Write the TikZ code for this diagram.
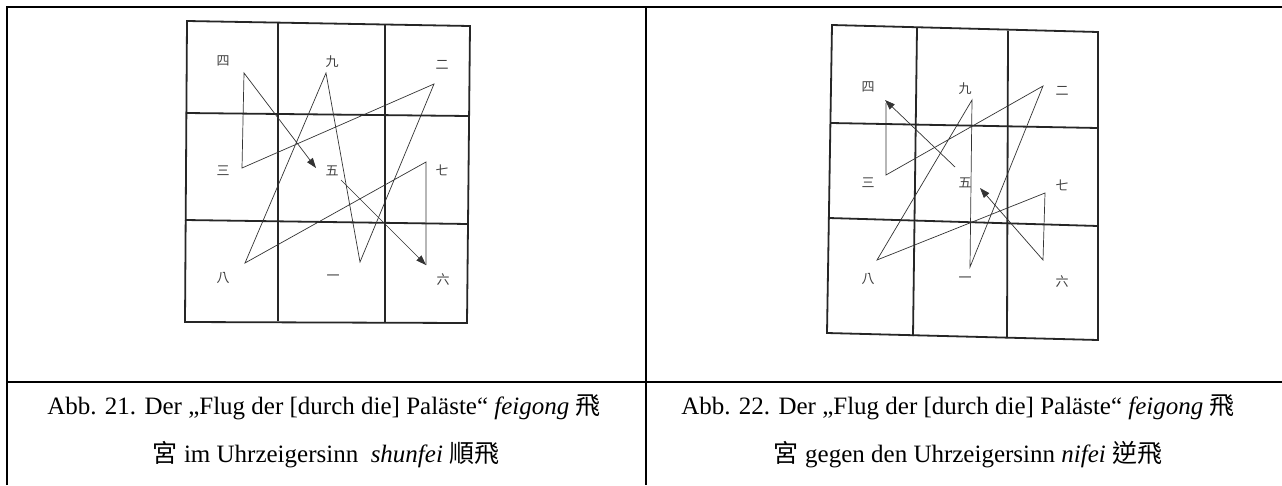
\documentclass[tikz,border=0pt]{standalone}
\usepackage{fontspec}
\setmainfont{Liberation Serif}
\newfontfamily\cjk{Noto Sans CJK TC}
\usetikzlibrary{arrows.meta}
\tikzset{
  x=1pt, y=-1pt,
  tableline/.style={line width=1.5pt, black},
  gridline/.style={line width=1.8pt, black!85},
  flight/.style={line width=0.7pt, black!80, line join=miter},
  arrowtip/.style={-{Triangle[length=10pt,width=7pt]}},
  numlabel/.style={font=\cjk\fontsize{13}{13}\selectfont, text=black!75, inner sep=0pt},
  captext/.style={font=\fontsize{25}{25}\selectfont, inner sep=0pt, anchor=base},
}
\begin{document}
\begin{tikzpicture}
\useasboundingbox (0,0) rectangle (1282,485);
\fill[white] (0,0) rectangle (1282,485);
% table
\coordinate (tl) at (7,7);
\coordinate (tr) at (1282,7);
\coordinate (bl) at (7,485);
\coordinate (mt) at (646,7);
\coordinate (mb) at (646,485);
\coordinate (hl) at (7,382);
\coordinate (hr) at (1282,382);
\draw[tableline] (bl) -- (tl) -- (tr);
\draw[tableline] (mt) -- (mb);
\draw[tableline] (hl) -- (hr);

% ---------- grid 1 ----------
\coordinate (a11) at (187,21);  \coordinate (a14) at (470,26);
\coordinate (a41) at (185,322); \coordinate (a44) at (467,323);
\coordinate (av1t) at (278,22); \coordinate (av1b) at (278,321);
\coordinate (av2t) at (385,24); \coordinate (av2b) at (385,322);
\coordinate (ah1l) at (186,113); \coordinate (ah1r) at (469,116);
\coordinate (ah2l) at (185,220); \coordinate (ah2r) at (468,224);
\draw[gridline] (a11) -- (a14) -- (a44) -- (a41) -- cycle;
\draw[gridline] (av1t) -- (av1b);
\draw[gridline] (av2t) -- (av2b);
\draw[gridline] (ah1l) -- (ah1r);
\draw[gridline] (ah2l) -- (ah2r);
\node[numlabel] (a4) at (223,61) {四};
\node[numlabel] (a9) at (332,62) {九};
\node[numlabel] (a2) at (442,65) {二};
\node[numlabel] (a3) at (223,171) {三};
\node[numlabel] (a5) at (332,171) {五};
\node[numlabel] (a7) at (442,170) {七};
\node[numlabel] (a8) at (223,278) {八};
\node[numlabel] (a1) at (333,278) {一};
\node[numlabel] (a6) at (443,280) {六};
\coordinate (p1) at (360,262);
\coordinate (p2) at (434,84);
\coordinate (p3) at (242,168);
\coordinate (p4) at (244,73);
\coordinate (p5t) at (316,168);
\coordinate (p5s) at (341,180);
\coordinate (p6) at (426,265);
\coordinate (p7) at (426,162);
\coordinate (p8) at (245,263);
\coordinate (p9) at (326,73);
\draw[flight,arrowtip] (p5s) -- (p6);
\draw[flight,arrowtip] (p6) -- (p7) -- (p8) -- (p9) -- (p1) -- (p2) -- (p3) -- (p4) -- (p5t);

% ---------- grid 2 ----------
\coordinate (b11) at (832,25);  \coordinate (b14) at (1098,32);
\coordinate (b41) at (827,333); \coordinate (b44) at (1098,340);
\coordinate (bv1t) at (917,28); \coordinate (bv1b) at (913,336);
\coordinate (bv2t) at (1008,31); \coordinate (bv2b) at (1007,338);
\coordinate (bh1l) at (831,123); \coordinate (bh1r) at (1098,128);
\coordinate (bh2l) at (829,218); \coordinate (bh2r) at (1098,226);
\draw[gridline] (b11) -- (b14) -- (b44) -- (b41) -- cycle;
\draw[gridline] (bv1t) -- (bv1b);
\draw[gridline] (bv2t) -- (bv2b);
\draw[gridline] (bh1l) -- (bh1r);
\draw[gridline] (bh2l) -- (bh2r);
\node[numlabel] (b4) at (868,87) {四};
\node[numlabel] (b9) at (965,89) {九};
\node[numlabel] (b2) at (1062,91) {二};
\node[numlabel] (b3) at (868,183) {三};
\node[numlabel] (b5) at (965,183) {五};
\node[numlabel] (b7) at (1062,185) {七};
\node[numlabel] (b8) at (868,279) {八};
\node[numlabel] (b1) at (965,280) {一};
\node[numlabel] (b6) at (1062,282) {六};
\coordinate (q5s) at (955,167);
\coordinate (q4t) at (885,100);
\coordinate (q4) at (886,103);
\coordinate (q3) at (886,175);
\coordinate (q2) at (1043,86);
\coordinate (q1) at (970,267);
\coordinate (q9) at (972,100);
\coordinate (q8) at (877,260);
\coordinate (q7) at (1045,193);
\coordinate (q6) at (1043,260);
\coordinate (q5t) at (980,188);
\draw[flight,arrowtip] (q5s) -- (q4t);
\draw[flight,arrowtip] (q4) -- (q3) -- (q2) -- (q1) -- (q9) -- (q8) -- (q7) -- (q6) -- (q5t);

% ---------- captions ----------
\node[captext] (c1a) at (324,414) {Abb. 21. Der „Flug der [durch die] Paläste“ \textit{feigong} {\cjk 飛}};
\node[captext] (c1b) at (326,462) {{\cjk 宮} im Uhrzeigersinn\ \ \textit{shunfei} {\cjk 順飛}};
\node[captext] (c2a) at (958,414) {Abb. 22. Der „Flug der [durch die] Paläste“ \textit{feigong} {\cjk 飛}};
\node[captext] (c2b) at (968,462) {{\cjk 宮} gegen den Uhrzeigersinn \textit{nifei} {\cjk 逆飛}};
\end{tikzpicture}
\end{document}
